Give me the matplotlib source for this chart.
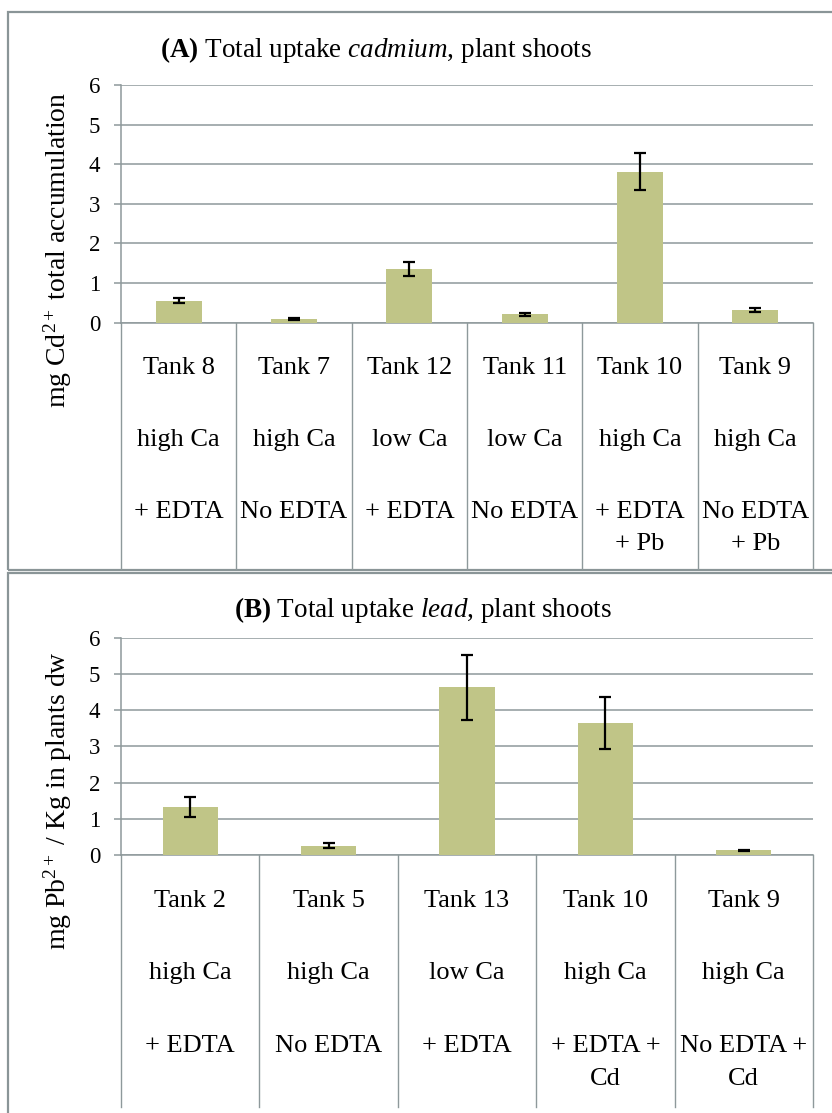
import matplotlib
matplotlib.use("Agg")
import matplotlib.pyplot as plt
from matplotlib import transforms
from matplotlib.patches import Rectangle
from matplotlib.lines import Line2D

# ---- data -------------------------------------------------------------
cd_tanks = ["Tank 8", "Tank 7", "Tank 12", "Tank 11", "Tank 10", "Tank 9"]
cd_calcium = ["high Ca", "high Ca", "low Ca", "low Ca", "high Ca", "high Ca"]
cd_treatment = ["+ EDTA", "No EDTA", "+ EDTA", "No EDTA", "+ EDTA\n+ Pb", "No EDTA\n+ Pb"]
cd_values = [0.56, 0.09, 1.36, 0.21, 3.81, 0.32]
cd_errors = [0.07, 0.02, 0.18, 0.03, 0.47, 0.04]

pb_tanks = ["Tank 2", "Tank 5", "Tank 13", "Tank 10", "Tank 9"]
pb_calcium = ["high Ca", "high Ca", "low Ca", "high Ca", "high Ca"]
pb_treatment = ["+ EDTA", "No EDTA", "+ EDTA", "+ EDTA +\nCd", "No EDTA +\nCd"]
pb_values = [1.32, 0.26, 4.63, 3.64, 0.13]
pb_errors = [0.27, 0.06, 0.89, 0.71, 0.02]

y_ticks = [0, 1, 2, 3, 4, 5, 6]

# ---- style ------------------------------------------------------------
plt.rcParams["font.family"] = ["Liberation Serif", "DejaVu Serif"]
plt.rcParams["mathtext.fontset"] = "custom"
plt.rcParams["mathtext.rm"] = "Liberation Serif"
plt.rcParams["mathtext.it"] = "Liberation Serif:italic"
plt.rcParams["mathtext.bf"] = "Liberation Serif:bold"

W, H = 832, 1113
BAR = "#C0C587"
GRID = "#8E999B"
FRAME = "#8A9597"

fig = plt.figure(figsize=(W / 100, H / 100), dpi=100)
fig.patch.set_facecolor("white")


def fx(px):
    return px / W


def fy(py):
    return 1 - py / H


# panel frames
for top, bottom in [(12, 570), (573, 1130)]:
    fig.patches.append(Rectangle((fx(8), fy(bottom)), 1.2, (bottom - top) / H,
                                 transform=fig.transFigure, fill=False,
                                 edgecolor=FRAME, linewidth=1.6, clip_on=False))


def panel(ax_box, tanks, calcium, treatment, values, errors, title, title_x, title_y,
          ylabel, ylabel_y, table_bottom, baselines):
    left, top, right, bottom = ax_box
    ax = fig.add_axes([fx(left), fy(bottom), (right - left) / W, (bottom - top) / H])
    n = len(values)
    xs = list(range(n))
    ax.bar(xs, values, width=0.40, color=BAR, zorder=3)
    ax.errorbar(xs, values, yerr=errors, fmt="none", ecolor="black",
                elinewidth=1.6, capsize=4, capthick=1.6, zorder=4)
    ax.set_xlim(-0.5, n - 0.5)
    ax.set_ylim(0, 6)
    ax.set_yticks(y_ticks)
    ax.set_yticklabels([str(t) for t in y_ticks], fontsize=16.5)
    ax.set_xticks([])
    ax.yaxis.grid(True, color=GRID, linewidth=1.1, zorder=0)
    ax.set_axisbelow(True)
    for s in ["top", "right"]:
        ax.spines[s].set_visible(False)
    for s in ["left", "bottom"]:
        ax.spines[s].set_color(GRID)
        ax.spines[s].set_linewidth(1.1)
    ax.tick_params(axis="y", direction="out", length=5, width=1.1, color=GRID, pad=10)

    # category table under the axis
    blend = transforms.blended_transform_factory(ax.transData, fig.transFigure)
    for b in range(n + 1):
        fig.lines.append(Line2D([b - 0.5, b - 0.5], [fy(bottom), fy(table_bottom)],
                                transform=blend, color=GRID, linewidth=1.0))
    for i in xs:
        fig.text(i, fy(baselines[0]), tanks[i], transform=blend, ha="center",
                 va="baseline", fontsize=19)
        fig.text(i, fy(baselines[1]), calcium[i], transform=blend, ha="center",
                 va="baseline", fontsize=19)
        lines = treatment[i].split("\n")
        for j, line in enumerate(lines):
            fig.text(i, fy(baselines[2 + j]), line, transform=blend, ha="center",
                     va="baseline", fontsize=19)

    fig.text(fx(title_x), fy(title_y), title, ha="center", va="center", fontsize=19.5)
    fig.text(fx(58), fy(ylabel_y), ylabel, rotation=90, ha="center", va="center",
             fontsize=20)
    return ax


panel((121, 85, 813, 322.7), cd_tanks, cd_calcium, cd_treatment, cd_values, cd_errors,
      r"$\mathbf{(A)}$ Total uptake $\mathit{cadmium}$, plant shoots", 376, 50,
      r"mg Cd$^{2+}$ total accumulation", 250, 569, [374, 446, 518, 550])

panel((121, 637.7, 813, 855), pb_tanks, pb_calcium, pb_treatment, pb_values, pb_errors,
      r"$\mathbf{(B)}$ Total uptake $\mathit{lead}$, plant shoots", 423, 610,
      r"mg Pb$^{2+}$ / Kg in plants dw", 801, 1107, [907, 979, 1052, 1085])

fig.savefig("out.png", dpi=100)
